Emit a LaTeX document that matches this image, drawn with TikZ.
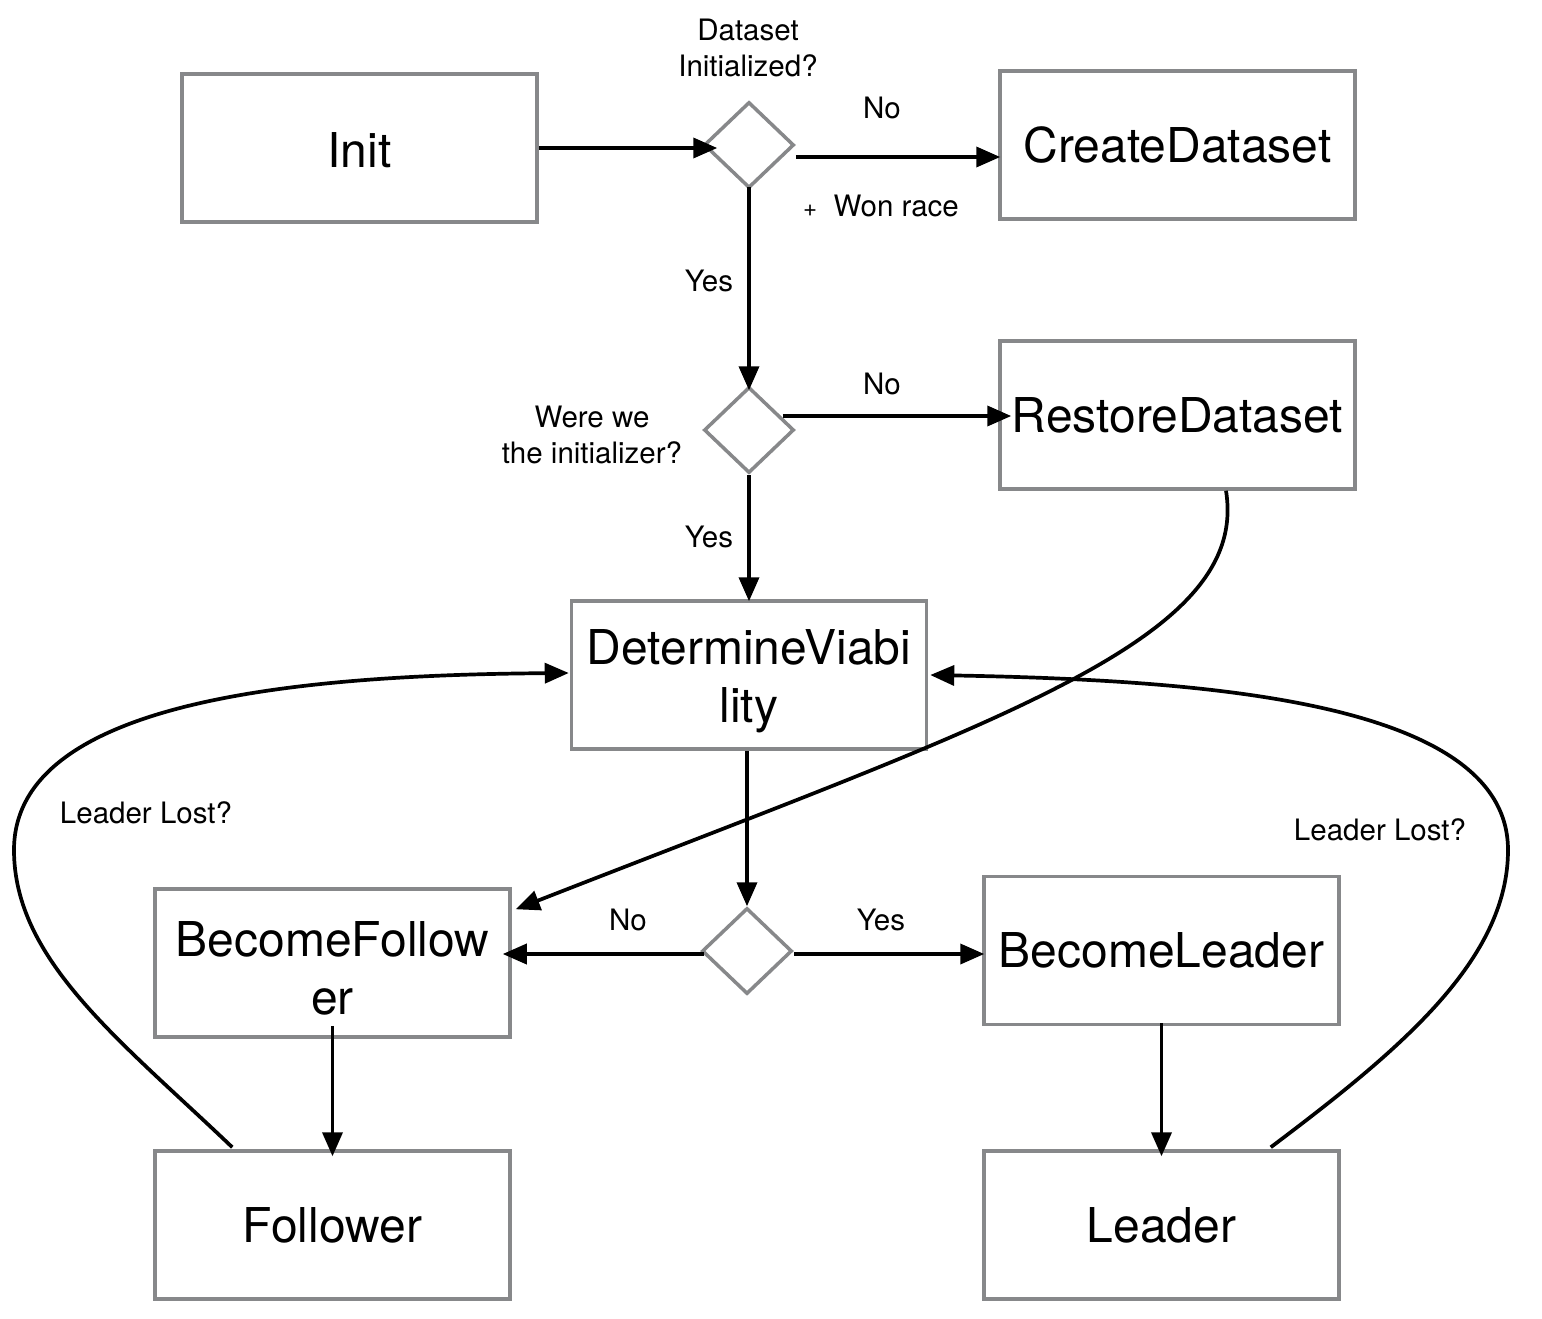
\documentclass[tikz,border=0pt]{standalone}
\usepackage{fontspec}
\setmainfont{TeX Gyre Heros}
\usetikzlibrary{shapes.geometric,arrows.meta,calc}
\definecolor{boxgray}{HTML}{87888A}
\tikzset{
  statebox/.style={draw=boxgray, line width=3.5pt, rectangle, minimum width=355pt, minimum height=148pt, inner sep=0pt, align=center, font=\fontsize{48}{58}\selectfont},
  decision/.style={draw=boxgray, line width=3.5pt, diamond, minimum width=90pt, minimum height=86pt, inner sep=0pt},
  arr/.style={line width=3.7pt, -{Triangle[length=24pt,width=20pt]}},
  lbl/.style={inner sep=0pt, align=center, font=\fontsize{29.5}{36}\selectfont}
}
\begin{document}
\begin{tikzpicture}[x=1pt,y=-1pt]
\useasboundingbox (0,0) rectangle (1542,1318);
% boxes
\node[statebox] (init) at (359.5,148) {\rule{0pt}{39pt}Init};
\node[statebox] (create) at (1177.5,145) {CreateDataset};
\node[statebox] (restore) at (1177.5,415) {RestoreDataset};
\node[statebox] (det) at (749,675) {\rule{0pt}{47pt}DetermineViabi\\lity};
\node[statebox] (bfol) at (332.5,963) {\rule{0pt}{45pt}BecomeFollow\\er};
\node[statebox] (blead) at (1161.5,950.5) {BecomeLeader};
\node[statebox] (fol) at (332.5,1225) {Follower};
\node[statebox] (lead) at (1161.5,1225) {Leader};
% decisions
\node[decision] (d1) at (749,145) {};
\node[decision] (d2) at (749,430) {};
\node[decision] (d3) at (747,951) {};
% labels
\node[lbl] (l1) at (748,48) {Dataset\\Initialized?};
\node[lbl] (l2) at (882,108) {No};
\node[lbl] (l3) at (881,206) {{\fontsize{24}{28}\selectfont +}\ \ Won race};
\node[lbl] (l4) at (709,281) {Yes};
\node[lbl] (l5) at (882,384) {No};
\node[lbl] (l6) at (592,435) {Were we\\the initializer?};
\node[lbl] (l7) at (709,537) {Yes};
\node[lbl] (l8) at (628,920) {No};
\node[lbl] (l9) at (881,920) {Yes};
\node[lbl] (l10) at (146,813) {Leader Lost?};
\node[lbl] (l11) at (1380,830) {Leader Lost?};
% straight connectors
\draw[arr] (init.east) -- ($(d1.west)+(15,3)$);
\draw[arr] ($(d1.east)+(0,12)$) -- ($(create.west)+(2,12)$);
\draw[arr] ($(d1.south)+(0,-3)$) -- ($(d2.north)+(0,5)$);
\draw[arr] ($(d2.east)+(-13,-14)$) -- ($(restore.west)+(13,1)$);
\draw[arr] (d2.south) -- ($(det.north)+(0,2)$);
\draw[arr] (det.south -| d3.north) -- (d3.north);
\draw[arr] ($(d3.west)+(4,3)$) -- ($(bfol.east)+(-9,-9)$);
\draw[arr] ($(d3.east)+(0,3)$) -- ($(blead.west)+(2,3.5)$);
\draw[arr] ($(bfol.south)+(0,-13)$) -- ($(fol.north)+(0,7)$);
\draw[arr] ($(blead.south)+(0,-3)$) -- ($(lead.north)+(0,7)$);
% curved connectors
\draw[arr] ($(restore.south)+(48.5,0)$) .. controls (1250,640) and (1000,720) .. ($(bfol.north east)+(4,22)$);
\draw[arr] ($(fol.north west)+(79,-2)$) .. controls (120,1040) and (14,960) .. (14,850) .. controls (14,700) and (300,675) .. ($(det.west)+(-1,-2)$);
\draw[arr] ($(lead.north east)+(-70,-2)$) .. controls (1400,1050) and (1508,960) .. (1508,850) .. controls (1508,700) and (1200,680) .. ($(det.east)+(2,0)$);
\end{tikzpicture}
\end{document}
